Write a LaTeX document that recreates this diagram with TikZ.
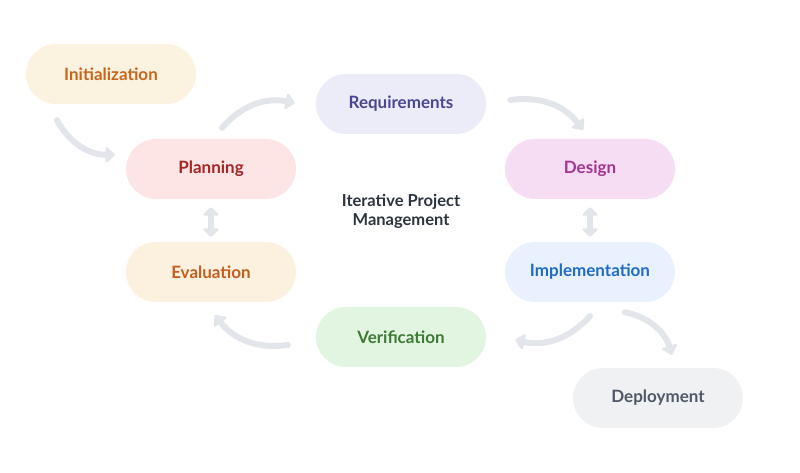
\documentclass[tikz,border=0pt]{standalone}
\usepackage{fontspec}
\setmainfont{Lato}
\usetikzlibrary{arrows.meta, positioning}

\definecolor{arrowgray}{HTML}{E2E5E9}
\definecolor{initfill}{HTML}{FCF2E0}
\definecolor{inittext}{HTML}{C9651A}
\definecolor{reqfill}{HTML}{ECEBF8}
\definecolor{reqtext}{HTML}{4B4690}
\definecolor{planfill}{HTML}{FDE5E5}
\definecolor{plantext}{HTML}{A82525}
\definecolor{desfill}{HTML}{F7DDF3}
\definecolor{destext}{HTML}{A53490}
\definecolor{implfill}{HTML}{E8F1FD}
\definecolor{impltext}{HTML}{1F6CC7}
\definecolor{evalfill}{HTML}{FCF0DF}
\definecolor{evaltext}{HTML}{C45E1F}
\definecolor{verfill}{HTML}{E2F5E1}
\definecolor{vertext}{HTML}{3E7A35}
\definecolor{depfill}{HTML}{EFF1F3}
\definecolor{deptext}{HTML}{4F5966}
\definecolor{titletext}{HTML}{2D3440}

\begin{document}
\begin{tikzpicture}[
    x=1pt, y=1pt,
    phasebox/.style={rounded corners=30pt, minimum width=170pt, minimum height=60pt, inner sep=0pt, font=\fontsize{17}{20}\selectfont\bfseries},
    flow/.style={-{Triangle[length=10pt, width=18pt, round]}, line width=6pt, color=arrowgray, line cap=round},
    swap/.style={{Triangle[length=9pt, width=18pt, round]}-{Triangle[length=9pt, width=18pt, round]}, line width=6pt, color=arrowgray}
]
\useasboundingbox (0,0) rectangle (800,473);
\node[phasebox, fill=initfill, text=inittext] (init) at (111,399) {Initialization};
\node[phasebox, fill=reqfill, text=reqtext] (req) at (401,369) {Requirements};
\node[phasebox, fill=planfill, text=plantext] (plan) at (211,304) {Planning};
\node[phasebox, fill=desfill, text=destext] (design) at (590,304) {Design};
\node[phasebox, fill=evalfill, text=evaltext] (eval) at (211,201) {Evaluation};
\node[phasebox, fill=implfill, text=impltext] (impl) at (590,201) {Implementation};
\node[phasebox, fill=verfill, text=vertext] (verif) at (401,136) {Verification};
\node[phasebox, fill=depfill, text=deptext] (deploy) at (658,75) {Deployment};
\node[font=\fontsize{16.5}{19}\selectfont\bfseries, text=titletext, align=center] (title) at (401,262) {Iterative Project\\Management};
\draw[flow] ([shift={(-54,-16)}]init.south) to[bend right=30] ([shift={(-11,14)}]plan.west);
\draw[flow] ([shift={(11,11)}]plan.north) to[bend left=30] ([shift={(-21,1)}]req.west);
\draw[flow] ([shift={(24,4)}]req.east) to[bend left=30] ([shift={(-7,9)}]design.north);
\draw[swap] ([yshift=-8]design.south) -- ([yshift=5]impl.north);
\draw[flow] ([yshift=-14]impl.south) to[bend left=30] ([shift={(29,-3)}]verif.east);
\draw[flow] ([shift={(35,-10)}]impl.south) to[bend left=30] ([shift={(14,13)}]deploy.north);
\draw[flow] ([shift={(-28,-8)}]verif.west) to[bend left=30] ([shift={(4,-13)}]eval.south);
\draw[swap] ([yshift=-8]plan.south) -- ([yshift=5]eval.north);
\end{tikzpicture}
\end{document}
